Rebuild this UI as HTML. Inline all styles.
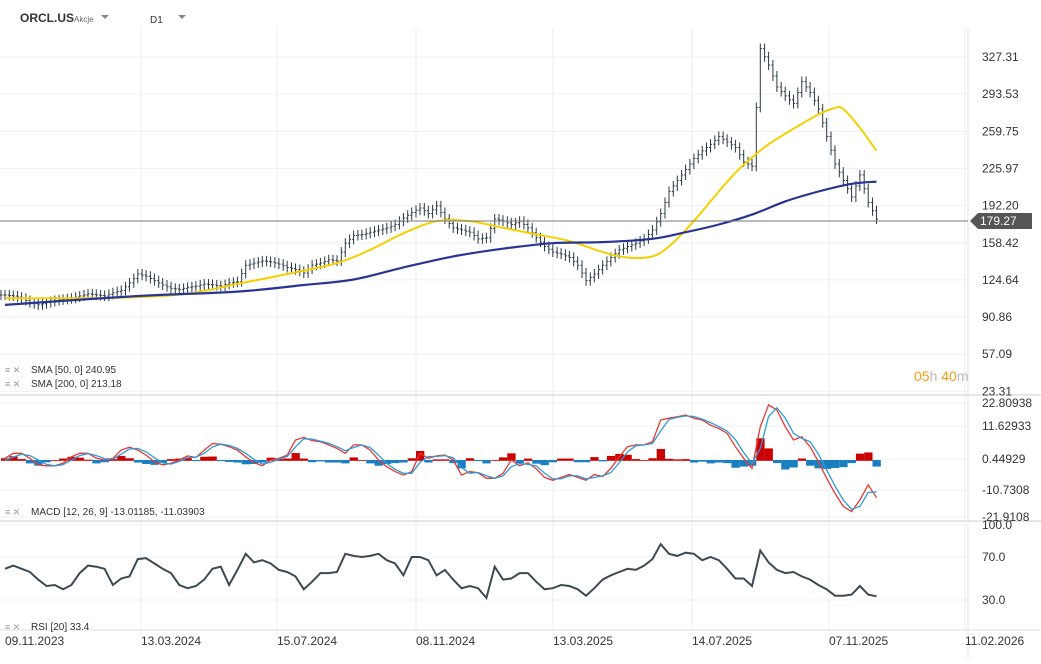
<!DOCTYPE html>
<html><head><meta charset="utf-8"><style>
body{margin:0;background:#fff;font-family:"Liberation Sans",sans-serif;}
svg text{font-family:"Liberation Sans",sans-serif;}
</style></head><body>
<svg id="c" width="1041" height="659" xmlns="http://www.w3.org/2000/svg">
<g id="grid"></g>
<g id="marks"></g>
<g id="labels"></g>
<text x="20" y="22" font-size="12" font-weight="bold" fill="#333">ORCL.US</text>
<text x="74" y="22" font-size="8" fill="#666">Akcje</text>
<path d="M101 15l4 4 4-4z" fill="#888"/>
<text x="150" y="23" font-size="10" fill="#333">D1</text>
<path d="M178 15l4 4 4-4z" fill="#888"/>
</svg>
<script>
const closes=[111,110,108,104,102,104,106,107,108,110,112,111,110,113,115,122,130,128,124,120,117,116,118,119,121,120,119,122,123,138,140,142,141,139,136,134,131,138,140,143,142,158,165,166,168,170,172,175,181,186,190,185,192,180,172,170,168,162,163,180,178,175,178,172,163,155,150,148,145,138,124,130,138,145,152,155,158,162,170,185,205,215,225,235,242,248,255,250,245,232,228,335,320,300,292,285,305,295,280,255,230,215,200,220,195,180];
const sma50Weeks=[0,10,16,22,28,34,40,44,48,52,56,60,64,68,72,75,78,80,82,84,86,88,90,92,95,98,100,101,103,105];
const sma50=[108,108,109,112,121,130,140,152,167,178,178,172,166,160,150,145,146,155,170,187,205,222,236,248,262,275,281,280,263,242];
const sma200Weeks=[0,16,28,36,42,48,54,60,66,72,78,82,86,90,94,98,102,105];
const sma200=[102,110,114,120,125,136,146,153,158,159,162,168,175,184,196,205,212,214];
const macdLine=[0.6,2.3,2.3,0.6,-1.7,-2,-2,-1.1,1.1,2.3,2.3,0.6,0,0.6,3.4,4.4,3.4,1.7,-0.6,-1.7,-1.1,0,1.4,0.9,3.4,5.7,5.4,4.6,3.4,1.1,-0.9,-2,0,0.6,1.7,6.9,7.8,6.7,6.3,5.2,4,2.3,5.2,5.2,3.4,0,-2.3,-4,-5.2,-4,2.3,0.6,1.4,1.7,0,-5.2,-4,-4.4,-6.3,-6.3,-4.6,0,-2,-1,-3,-6,-7,-6,-5,-6,-7,-5,-5.7,-2.9,1.1,4.6,5.2,5.2,6.3,13.8,14.4,14.9,15.5,14.4,13.8,12,10.9,9.2,4.6,0.6,-2.9,11.5,19,17.2,11.5,6.9,8,4.6,-0.6,-6.3,-11.5,-16,-17.8,-13.8,-8.6,-13];
const signalLine=[0,1,2,1.5,0,-1.5,-2,-1.6,0,1.5,2.2,1.5,0.5,0.3,2,3.8,4,2.8,0.8,-1,-1.4,-0.5,0.8,1,2.3,4.5,5.5,5,4,2.3,0.2,-1.4,-0.8,0.3,1.2,4.5,7.3,7.2,6.5,5.8,4.6,3.2,4.3,5.2,4.3,1.7,-1.2,-3.2,-4.6,-4.6,-0.8,1.2,1.2,1.5,0.8,-2.6,-4.6,-4.3,-5.4,-6.3,-5.5,-2.3,-1.2,-1.5,-2,-4.5,-6.5,-6.5,-5.5,-5.5,-6.5,-6,-5.5,-4.3,-1,2.8,4.9,5.2,5.7,10,14,14.7,15.2,15,14.1,12.9,11.5,10,7,2.6,-1.2,4,15,18,14.5,9.2,7.5,6.3,2,-3.5,-9,-13.8,-17,-16,-11.2,-11];
const rsi=[59,62,59,56,49,43,44,40,44,55,62,61,59,44,50,52,68,69,64,59,55,44,41,43,49,59,61,44,58,73,65,67,64,58,56,52,40,47,55,55,56,73,71,70,71,73,67,64,53,70,70,67,53,58,49,41,43,41,32,61,49,50,55,55,47,40,41,44,43,40,34,41,49,53,56,59,58,62,68,82,73,71,74,73,67,70,67,59,50,50,43,76,65,58,55,56,52,49,44,40,34,34,35,43,35,33.4];
const priceTicks=["327.31","293.53","259.75","225.97","192.20","158.42","124.64","90.86","57.09","23.31"];
const macdTicks=["22.80938","11.62933","0.44929","-10.7308","-21.9108"];
const rsiTicks=["100.0","70.0","30.0"];
const dateTicks=["09.11.2023","13.03.2024","15.07.2024","08.11.2024","13.03.2025","14.07.2025","07.11.2025","11.02.2026"];

const NS="http://www.w3.org/2000/svg";
const xW=i=>5+i*8.3;
const yP=v=>57+(327.31-v)*1.1;
const yM=v=>460-v*2.9;
const yR=v=>600-(v-30)*1.075;
function el(t,a,p){const e=document.createElementNS(NS,t);for(const k in a)e.setAttribute(k,a[k]);document.getElementById(p).appendChild(e);return e;}
const gx=[141,277,416,553,692,829,965];
gx.forEach(x=>{const l=el('line',{x1:x,x2:x,y1:28,y2:630,stroke:'#eee'},'grid');

});
priceTicks.forEach(t=>{const y=yP(parseFloat(t));
const l=el('line',{x1:0,x2:968,y1:y,y2:y,stroke:'#f0f0f0'},'grid');


const tx=el('text',{x:982,y:y+4,'font-size':12,fill:'#333'},'labels');tx.textContent=t;

});
macdTicks.forEach((t,i)=>{const y=[403,426,459,490,517][i];
const l=el('line',{x1:0,x2:968,y1:y,y2:y,stroke:'#f0f0f0'},'grid');


const tx=el('text',{x:982,y:y+4,'font-size':12,fill:'#333'},'labels');tx.textContent=t;

});
rsiTicks.forEach(t=>{const y=yR(parseFloat(t));
const l=el('line',{x1:0,x2:968,y1:y,y2:y,stroke:'#f0f0f0'},'grid');


const tx=el('text',{x:982,y:y+4,'font-size':12,fill:'#333'},'labels');tx.textContent=t;

});
dateTicks.forEach((t,i)=>{const x=i==0?5:gx[i-1];
const tx=el('text',{x:x,y:645,'font-size':12,fill:'#333'},'labels');tx.textContent=t;

});
[[395,'#ccc'],[521,'#ccc'],[630,'#ddd']].forEach(([y,c])=>{const l=el('line',{x1:0,x2:1041,y1:y,y2:y,stroke:c},'grid');

});
const ax=el('line',{x1:968,x2:968,y1:28,y2:659,stroke:'#e6e6e6'},'grid');


closes.forEach((c,i)=>{const p=i?closes[i-1]:c;const x=xW(i);const ym=(yP(c)+yP(p))/2;
[[x-4,yP(p),ym],[x,ym,yP(c)]].forEach(([bx,a,b])=>{const hi=Math.min(a,b)-5,lo=Math.max(a,b)+5;
const bar=el('path',{d:`M${bx} ${hi}V${lo}M${bx-1.5} ${a}H${bx}M${bx} ${b}H${bx+1.5}`,stroke:'#2b3a45','stroke-width':1,fill:'none'},'marks');

});});
function smooth(xs,vs,fy){const p=vs.map((v,i)=>[xs(i),fy(v)]);let d=`M${p[0][0]} ${p[0][1]}`;
for(let i=0;i<p.length-1;i++){const p0=p[Math.max(0,i-1)],p1=p[i],p2=p[i+1],p3=p[Math.min(p.length-1,i+2)];
const c1=[p1[0]+(p2[0]-p0[0])/6,p1[1]+(p2[1]-p0[1])/6],c2=[p2[0]-(p3[0]-p1[0])/6,p2[1]-(p3[1]-p1[1])/6];
d+=`C${c1[0].toFixed(1)} ${c1[1].toFixed(1)} ${c2[0].toFixed(1)} ${c2[1].toFixed(1)} ${p2[0].toFixed(1)} ${p2[1].toFixed(1)}`;}return d;}
function path(xs,vs,fy){return vs.map((v,i)=>(i?'L':'M')+xs(i).toFixed(1)+' '+fy(v).toFixed(1)).join('');}
const s50=el('path',{d:smooth(i=>xW(sma50Weeks[i]),sma50,yP),stroke:'#f5d000','stroke-width':2,fill:'none'},'marks');


const s200=el('path',{d:smooth(i=>xW(sma200Weeks[i]),sma200,yP),stroke:'#283593','stroke-width':2.2,fill:'none'},'marks');


const cp=el('line',{x1:0,x2:968,y1:221,y2:221,stroke:'#777'},'marks');


const cb=el('path',{d:'M970 221l8-8h54v16h-54z',fill:'#555'},'marks');


const ct=el('text',{x:980,y:225,'font-size':12,fill:'#fff'},'labels');ct.textContent='179.27';


macdLine.forEach((m,i)=>{const h=m-signalLine[i];const x=xW(i)-4;
const r=el('rect',{x:x,y:Math.min(yM(0),yM(h)),width:8.3,height:Math.abs(yM(h)-yM(0))+0.8,fill:h>=0?'#cc0000':'#1a7fc1'},'marks');

});
const ml=el('path',{d:path(xW,macdLine,yM),stroke:'#e53935','stroke-width':1.3,fill:'none'},'marks');


const sl=el('path',{d:path(xW,signalLine,yM),stroke:'#2e9bd6','stroke-width':1.3,fill:'none'},'marks');


const rl=el('path',{d:path(xW,rsi,yR),stroke:'#3d4a52','stroke-width':2,fill:'none'},'marks');


[['SMA [50, 0] 240.95',373,'sma-50-legend'],['SMA [200, 0] 213.18',387,'sma-200-legend'],['MACD [12, 26, 9] -13.01185, -11.03903',515,'macd-legend'],['RSI [20] 33.4',630,'rsi-legend']].forEach(([t,y,n])=>{
const ic=el('text',{x:5,y:y,'font-size':9,fill:'#999'},'labels');ic.textContent='≡ ✕';


const tx=el('text',{x:31,y:y,'font-size':10,fill:'#333'},'labels');tx.textContent=t;

});
const cd=el('text',{x:914,y:381,'font-size':14,fill:'#f39c12'},'labels');
cd.innerHTML='05<tspan fill="#bbb">h</tspan> 40<tspan fill="#bbb">m</tspan>';


</script>
</body></html>
